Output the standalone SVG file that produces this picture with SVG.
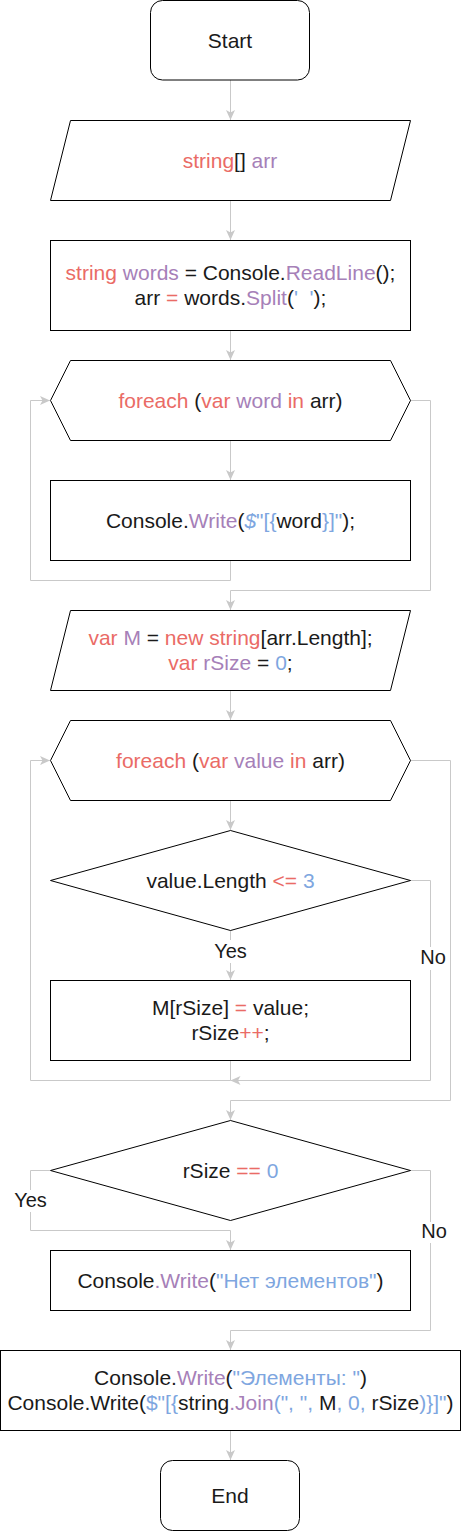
<svg xmlns="http://www.w3.org/2000/svg" width="461" height="1531" viewBox="0 0 461 1531">
<style>
  .shape { fill: #ffffff; stroke: #000000; stroke-width: 1; }
  .edge { fill: none; stroke: #c9c9c9; stroke-width: 1; }
  text { font-family: "Liberation Sans", Arial, Helvetica, sans-serif; font-size: 21px; fill: #1a1a1a; text-anchor: middle; }
  .lbl { font-size: 20px; }
  .r { fill: #EA6B66; }
  .p { fill: #A680B8; }
  .b { fill: #7EA6E0; }
  .k { fill: #1a1a1a; }
</style>
<defs>
  <marker id="arr" markerUnits="userSpaceOnUse" markerWidth="10" markerHeight="10" refX="10" refY="4.5" orient="auto">
    <path d="M0,0 L10,4.5 L0,9 L2.5,4.5 Z" fill="#c9c9c9"/>
  </marker>
</defs>

<g id="connectors">
  <path class="edge" d="M230.5,80 V120" marker-end="url(#arr)"/>
  <path class="edge" d="M230.5,200 V240" marker-end="url(#arr)"/>
  <path class="edge" d="M230.5,330 V360" marker-end="url(#arr)"/>
  <path class="edge" d="M230.5,440 V480" marker-end="url(#arr)"/>
  <path class="edge" d="M230.5,560 V580.5 H30.5 V400.5 H50" marker-end="url(#arr)"/>
  <path class="edge" d="M410,400.5 H430.5 V590.5 H230.5 V610" marker-end="url(#arr)"/>
  <path class="edge" d="M230.5,690 V720" marker-end="url(#arr)"/>
  <path class="edge" d="M230.5,800 V830" marker-end="url(#arr)"/>
  <path class="edge" d="M230.5,930 V980" marker-end="url(#arr)"/>
  <path class="edge" d="M410,880.5 H430.5 V1080.5 H230.5" marker-end="url(#arr)"/>
  <path class="edge" d="M230.5,1060 V1080.5 H30.5 V760.5 H50" marker-end="url(#arr)"/>
  <path class="edge" d="M410,760.5 H450.5 V1100.5 H230.5 V1120" marker-end="url(#arr)"/>
  <path class="edge" d="M50,1170.5 H30.5 V1230.5 H230.5 V1250" marker-end="url(#arr)"/>
  <path class="edge" d="M410,1170.5 H430.5 V1330.5 H230.5 V1350" marker-end="url(#arr)"/>
  <path class="edge" d="M230.5,1430 V1460" marker-end="url(#arr)"/>
  <g id="edge-labels">
    <rect x="212" y="940" width="37" height="23" fill="#ffffff"/>
    <text class="lbl" x="230.5" y="958">Yes</text>
    <rect x="418" y="947" width="30" height="23" fill="#ffffff"/>
    <text class="lbl" x="433" y="964">No</text>
    <rect x="12" y="1190" width="37" height="22" fill="#ffffff"/>
    <text class="lbl" x="30.5" y="1207">Yes</text>
    <rect x="418" y="1222" width="30" height="21" fill="#ffffff"/>
    <text class="lbl" x="434" y="1238">No</text>
  </g>
</g>

<g id="start">
  <rect class="shape" x="150.5" y="0.5" width="159" height="79.5" rx="12" ry="12"/>
  <text x="230" y="48">Start</text>
</g>

<g id="declare-arr">
  <polygon class="shape" points="70.5,120.5 410.5,120.5 390.5,200.5 50.5,200.5"/>
  <text x="230" y="168"><tspan class="r">string</tspan>[] <tspan class="p">arr</tspan></text>
</g>

<g id="read-words">
  <rect class="shape" x="50.5" y="240.5" width="360" height="90"/>
  <text x="230.5" y="280"><tspan class="r">string</tspan><tspan class="p"> words</tspan> = Console.<tspan class="p">ReadLine</tspan>();</text>
  <text x="230.5" y="305">arr <tspan class="r">=</tspan> words.<tspan class="p">Split</tspan>(<tspan class="b">'&#160;&#160;'</tspan>);</text>
</g>

<g id="loop-word">
  <polygon class="shape" points="70.5,360.5 390.5,360.5 410.5,400.5 390.5,440.5 70.5,440.5 50.5,400.5"/>
  <text x="230.5" y="408"><tspan class="r">foreach</tspan> (<tspan class="r">var</tspan><tspan class="p"> word</tspan><tspan class="r"> in</tspan> arr)</text>
</g>

<g id="write-word">
  <rect class="shape" x="50.5" y="480.5" width="360" height="80"/>
  <text x="230.5" y="528">Console.<tspan class="p">Write</tspan>(<tspan class="b" font-style="italic">$</tspan><tspan class="b">"[{</tspan>word<tspan class="b">}]"</tspan>);</text>
</g>

<g id="declare-m">
  <polygon class="shape" points="70.5,610.5 410.5,610.5 390.5,690.5 50.5,690.5"/>
  <text x="230.5" y="645"><tspan class="r">var</tspan><tspan class="p"> M</tspan> = <tspan class="r">new string</tspan>[arr.Length];</text>
  <text x="230.5" y="670"><tspan class="r">var</tspan><tspan class="p"> rSize</tspan> = <tspan class="b">0</tspan>;</text>
</g>

<g id="loop-value">
  <polygon class="shape" points="70.5,720.5 390.5,720.5 410.5,760.5 390.5,800.5 70.5,800.5 50.5,760.5"/>
  <text x="230.5" y="768"><tspan class="r">foreach</tspan> (<tspan class="r">var</tspan><tspan class="p"> value</tspan><tspan class="r"> in</tspan> arr)</text>
</g>

<g id="check-length">
  <polygon class="shape" points="230.5,830.5 410.5,880.5 230.5,930.5 50.5,880.5"/>
  <text x="230.5" y="888">value.Length <tspan class="r">&lt;=</tspan><tspan class="b"> 3</tspan></text>
</g>

<g id="store-value">
  <rect class="shape" x="50.5" y="980.5" width="360" height="80"/>
  <text x="230.5" y="1015">M[rSize] <tspan class="r">=</tspan> value;</text>
  <text x="230.5" y="1040">rSize<tspan class="r">++</tspan>;</text>
</g>

<g id="check-size">
  <polygon class="shape" points="230.5,1120.5 410.5,1170.5 230.5,1220.5 50.5,1170.5"/>
  <text x="230.5" y="1178">rSize <tspan class="r">==</tspan><tspan class="b"> 0</tspan></text>
</g>

<g id="write-empty">
  <rect class="shape" x="50.5" y="1250.5" width="360" height="60"/>
  <text x="230.5" y="1288">Console<tspan class="p">.Write</tspan>(<tspan class="b">"Нет элементов"</tspan>)</text>
</g>

<g id="write-result">
  <rect class="shape" x="0.5" y="1350.5" width="460" height="80"/>
  <text x="230.5" y="1385">Console.<tspan class="p">Write</tspan>(<tspan class="b">"Элементы: "</tspan>)</text>
  <text x="230.5" y="1410">Console.Write(<tspan class="b">$"[{</tspan>string<tspan class="p">.Join</tspan><tspan class="b">(", ",</tspan> M<tspan class="b">, 0,</tspan> rSize<tspan class="b">)}]"</tspan>)</text>
</g>

<g id="end">
  <rect class="shape" x="160.5" y="1460.5" width="139" height="70" rx="12" ry="12"/>
  <text x="230" y="1503">End</text>
</g>
</svg>
